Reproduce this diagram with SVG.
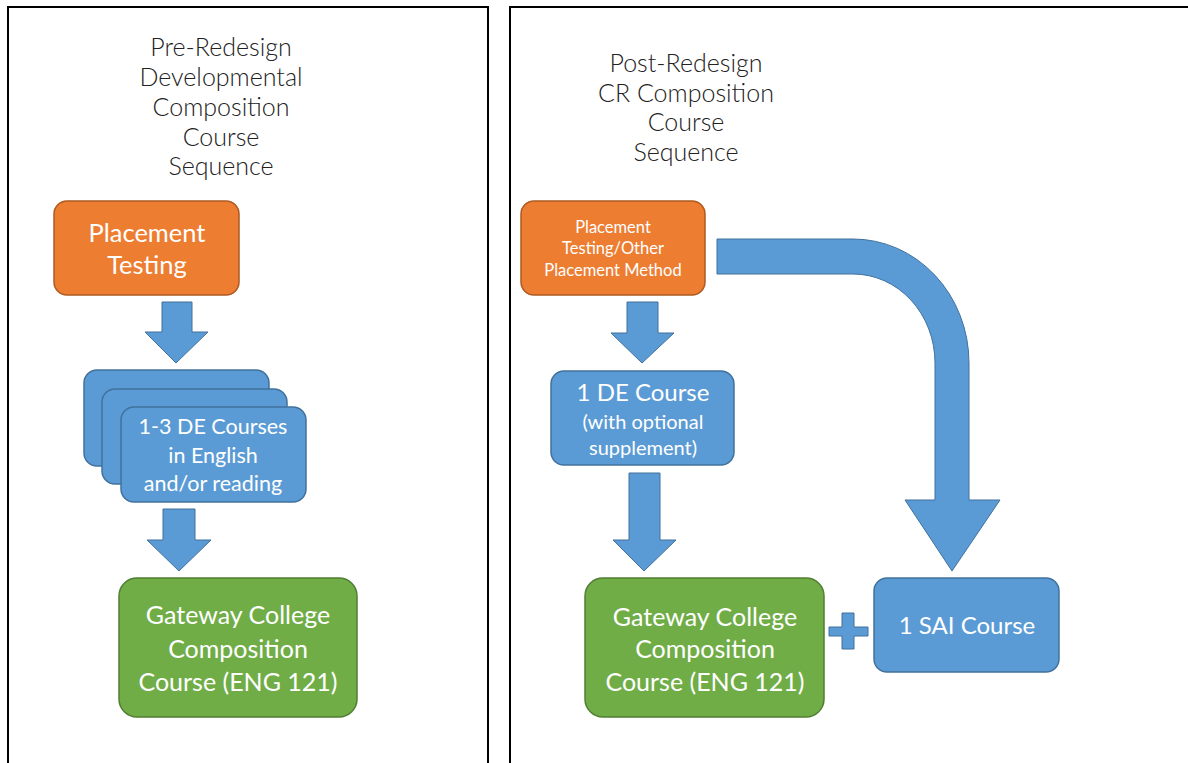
<svg xmlns="http://www.w3.org/2000/svg" width="1188" height="763" viewBox="0 0 1188 763">
<style>
.frame{fill:none;stroke:#000;stroke-width:2}
.title{font-family:Lato,"Open Sans","Liberation Sans",sans-serif;font-size:25px;font-weight:300;fill:#222;text-anchor:middle}
.orange{fill:#ED7D31;stroke:#AE5A21;stroke-width:1.5}
.blue{fill:#5B9BD5;stroke:#41719C;stroke-width:1.5}
.green{fill:#70AD47;stroke:#507E32;stroke-width:1.5}
.arrow{fill:#5B9BD5;stroke:#41719C;stroke-width:1}
.lbl{font-family:Lato,"Open Sans","Liberation Sans",sans-serif;fill:#fff;text-anchor:middle}
</style>
<rect width="1188" height="763" fill="#fff"/>
<g id="frames">
<path class="frame" d="M8,763 V7 H488 V763"/>
<path class="frame" d="M510,763 V7 H1188"/>
</g>
<g id="title-left">
<text class="title" x="221" y="56">Pre-Redesign</text>
<text class="title" x="221" y="86">Developmental</text>
<text class="title" x="221" y="116">Composition</text>
<text class="title" x="221" y="146">Course</text>
<text class="title" x="221" y="175">Sequence</text>
</g>
<g id="title-right">
<text class="title" x="686" y="72">Post-Redesign</text>
<text class="title" x="686" y="102">CR Composition</text>
<text class="title" x="686" y="131">Course</text>
<text class="title" x="686" y="161">Sequence</text>
</g>
<g id="connectors">
<path class="arrow" d="M162,302 H192 V332 H208 L176,363 L145,332 H162 Z"/>
<path class="arrow" d="M163,509 H195 V540 H211 L179,571 L147,540 H163 Z"/>
<path class="arrow" d="M627,302 H658 V333 H674 L642,363 L611,333 H627 Z"/>
<path class="arrow" d="M629,473 H660 V540 H676 L644,571 L613,540 H629 Z"/>
<path class="arrow" d="M717,239 H853 A116,124 0 0 1 969,363 V500 H1000 L952,571 L905,500 H935 V363 A82,89 0 0 0 853,274 H717 Z"/>
</g>
<g id="placement-left">
<rect class="orange" x="54" y="201" width="185" height="94" rx="13"/>
<text class="lbl" x="147" y="242" font-size="25.5">Placement</text>
<text class="lbl" x="147" y="274" font-size="25.5">Testing</text>
</g>
<g id="de-courses-left">
<rect class="blue" x="84" y="370" width="185" height="96" rx="13"/>
<rect class="blue" x="102" y="389" width="185" height="95" rx="13"/>
<rect class="blue" x="121" y="407" width="185" height="95" rx="13"/>
<text class="lbl" x="213" y="434" font-size="21.5">1-3 DE Courses</text>
<text class="lbl" x="213" y="463" font-size="21.5">in English</text>
<text class="lbl" x="213" y="491" font-size="21.5">and/or reading</text>
</g>
<g id="gateway-left">
<rect class="green" x="119" y="578" width="238" height="139" rx="18"/>
<text class="lbl" x="238" y="624" font-size="25">Gateway College</text>
<text class="lbl" x="238" y="658" font-size="25">Composition</text>
<text class="lbl" x="238" y="691" font-size="25">Course (ENG 121)</text>
</g>
<g id="placement-right">
<rect class="orange" x="521" y="201" width="184" height="94" rx="13"/>
<text class="lbl" x="613" y="233" font-size="16.5">Placement</text>
<text class="lbl" x="613" y="254" font-size="16.5">Testing/Other</text>
<text class="lbl" x="613" y="276" font-size="16.5">Placement Method</text>
</g>
<g id="de-course-right">
<rect class="blue" x="551" y="371" width="183" height="94" rx="13"/>
<text class="lbl" x="643" y="401" font-size="24">1 DE Course</text>
<text class="lbl" x="643" y="429" font-size="20">(with optional</text>
<text class="lbl" x="643" y="455" font-size="20">supplement)</text>
</g>
<g id="gateway-right">
<rect class="green" x="585" y="578" width="239" height="139" rx="18"/>
<text class="lbl" x="705" y="626" font-size="25">Gateway College</text>
<text class="lbl" x="705" y="658" font-size="25">Composition</text>
<text class="lbl" x="705" y="691" font-size="25">Course (ENG 121)</text>
</g>
<g id="plus">
<path class="arrow" d="M842,613 H854 V627 H868 V636 H854 V649 H842 V636 H829 V627 H842 Z"/>
</g>
<g id="sai-course">
<rect class="blue" x="874" y="578" width="185" height="94" rx="13"/>
<text class="lbl" x="967" y="634" font-size="24">1 SAI Course</text>
</g>
</svg>
